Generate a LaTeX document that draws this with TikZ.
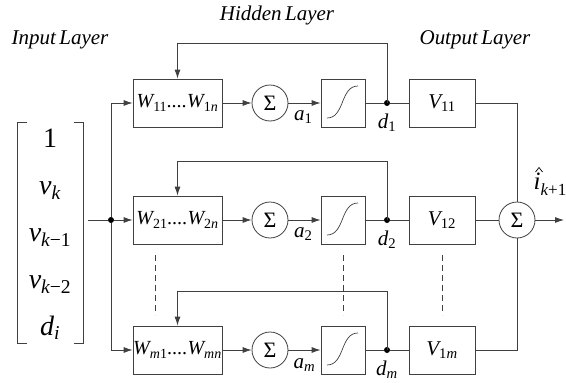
\documentclass[tikz,border=0pt]{standalone}
\usepackage{fontspec}
\setmainfont{Liberation Serif}
\usetikzlibrary{arrows.meta}

\newcommand\lowsub[2]{\raisebox{-0.25em}{\fontsize{#1}{#1}\selectfont #2}}

\begin{document}
\begin{tikzpicture}[x=1pt, y=-1pt, line width=0.8pt, color=black!75,
    >={Latex[length=9pt,width=6pt]},
    every node/.style={text=black},
    wbox/.style={draw, minimum width=89pt, minimum height=48pt, inner sep=0pt,
      font=\fontsize{20}{24}\selectfont\itshape},
    vbox/.style={draw, minimum width=66pt, minimum height=48pt, inner sep=0pt,
      font=\fontsize{21}{24}\selectfont\itshape},
    sbox/.style={draw, minimum width=44pt, minimum height=48pt, inner sep=0pt},
    sumc/.style={draw, circle, minimum size=36pt, inner sep=0pt,
      font=\fontsize{22}{24}\selectfont},
    dot/.style={circle, fill=black, minimum size=6pt, inner sep=0pt},
    lab/.style={inner sep=0pt, font=\fontsize{21}{24}\selectfont\itshape},
    ent/.style={inner sep=0pt, anchor=base, font=\fontsize{28}{30}\selectfont\itshape},
    ttl/.style={inner sep=0pt, font=\fontsize{21}{24}\selectfont\itshape}]
  \useasboundingbox (0,0) rectangle (566,383);

  % titles
  \node[ttl] (tin) at (60,40) {Input\,Layer};
  \node[ttl] (thid) at (277,15) {Hidden\,Layer};
  \node[ttl] (tout) at (475,40) {Output\,Layer};

  % input vector
  \draw (27,122) -- (17,122) -- (17,343) -- (27,343);
  \draw (74,122) -- (83,122) -- (83,343) -- (74,343);
  \node[ent] (x1) at (50,147) {\upshape 1};
  \node[ent] (x2) at (50,194) {v\textsubscript{k}};
  \node[ent] (x3) at (50,241) {v\textsubscript{k\upshape −1}};
  \node[ent] (x4) at (50,288) {v\textsubscript{k\upshape −2}};
  \node[ent] (x5) at (50,335) {d\textsubscript{i}};

  \coordinate (mx) at (88,220);
  \node[dot] (in) at (111,220) {};

  % hidden layer
  \node[wbox] (w1) at (177.5,103) {W\textsubscript{\upshape 11}....W\textsubscript{\upshape 1\itshape n}};
  \node[wbox] (w2) at (177.5,220) {W\textsubscript{\upshape 21}....W\textsubscript{\upshape 2\itshape n}};
  \node[wbox] (w3) at (177.5,350) {W\textsubscript{m\upshape 1}....W\textsubscript{mn}};

  \node[sumc] (s1) at (270,103) {Σ};
  \node[sumc] (s2) at (270,220) {Σ};
  \node[sumc] (s3) at (270,350) {Σ};

  \node[sbox] (g1) at (343,103) {};
  \node[sbox] (g2) at (343,220) {};
  \node[sbox] (g3) at (343,350) {};

  \draw[line width=0.7pt] (327,118) .. controls (345,118) and (340,86) .. (358,86);
  \draw[line width=0.7pt] (327,235) .. controls (345,235) and (340,203) .. (358,203);
  \draw[line width=0.7pt] (327,365) .. controls (345,365) and (340,333) .. (358,333);

  \node[dot] (d1) at (387,103) {};
  \node[dot] (d2) at (387,220) {};
  \node[dot] (d3) at (387,350) {};

  % output layer
  \node[vbox] (v1) at (442,103) {V\textsubscript{\upshape 11}};
  \node[vbox] (v2) at (442,220) {V\textsubscript{\upshape 12}};
  \node[vbox] (v3) at (442,350) {V\textsubscript{\upshape 1\itshape m}};

  \node[sumc] (out) at (517,220) {Σ};
  \coordinate (iout) at (564,220);
  \node[lab, font=\fontsize{25}{26}\selectfont\itshape] (iht) at (550,184)
    {i\lowsub{17}{k\upshape +1}};
  \draw[black, line width=0.7pt] (535.5,172) -- (539,167.5) -- (542.5,172);

  % labels
  \node[lab] (a1) at ([shift={(15,14)}]s1.east) {a\textsubscript{\upshape 1}};
  \node[lab] (a2) at ([shift={(15,14)}]s2.east) {a\textsubscript{\upshape 2}};
  \node[lab] (a3) at ([shift={(16,15)}]s3.east) {a\textsubscript{m}};
  \node[lab] (l1) at ([shift={(0,20)}]d1.center) {d\textsubscript{\upshape 1}};
  \node[lab] (l2) at ([shift={(0,20)}]d2.center) {d\textsubscript{\upshape 2}};
  \node[lab] (l3) at ([shift={(0,20)}]d3.center) {d\textsubscript{m}};

  % input bus
  \draw (mx) -- (in);
  \draw[->] (in) |- (w1.west);
  \draw[->] (in) -- (w2.west);
  \draw[->] (in) |- (w3.west);

  % rows
  \draw[->] (w1) -- (s1);
  \draw[->] (w2) -- (s2);
  \draw[->] (w3) -- (s3);

  \draw[->] (s1) -- (g1);
  \draw[->] (s2) -- (g2);
  \draw[->] (s3) -- (g3);

  \draw (g1) -- (d1) -- (v1);
  \draw (g2) -- (d2) -- (v2);
  \draw (g3) -- (d3) -- (v3);

  % feedback
  \coordinate (f1) at (387,43);
  \coordinate (f2) at (387,161);
  \coordinate (f3) at (387,291);
  \draw[->] (d1.center) -- (f1) -| (w1.north);
  \draw[->] (d2.center) -- (f2) -| (w2.north);
  \draw[->] (d3.center) -- (f3) -| (w3.north);

  % output sum
  \draw (v1.east) -| (out.north);
  \draw (v2.east) -- (out.west);
  \draw (v3.east) -| (out.south);
  \draw[->] (out.east) -- (iout);

  % dashed
  \draw[dashed, dash pattern=on 6pt off 4pt] (155,255) -- (155,315);
  \draw[dashed, dash pattern=on 6pt off 4pt] (343,255) -- (343,315);
  \draw[dashed, dash pattern=on 6pt off 4pt] (442,255) -- (442,315);

\end{tikzpicture}
\end{document}
